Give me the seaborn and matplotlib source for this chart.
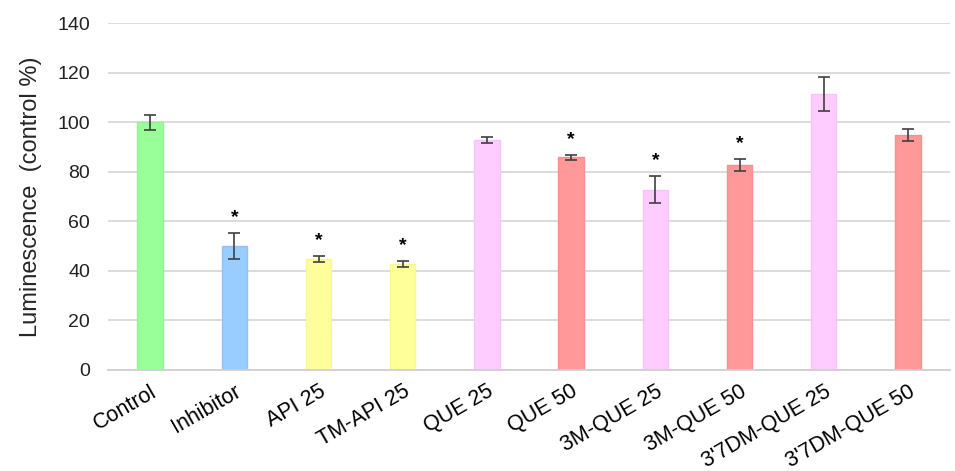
import matplotlib
matplotlib.use('Agg')
import matplotlib.pyplot as plt
import seaborn as sns
import pandas as pd
import numpy as np

# Data
groups = ['Control', 'Inhibitor', 'API 25', 'TM-API 25', 'QUE 25', 'QUE 50',
          '3M-QUE 25', '3M-QUE 50', "3'7DM-QUE 25", "3'7DM-QUE 50"]
means = [100.0, 50.0, 44.8, 42.8, 92.8, 85.8, 72.8, 82.7, 111.3, 94.8]
errors = [3.0, 5.4, 1.3, 1.25, 1.3, 1.0, 5.6, 2.4, 6.9, 2.5]
significant = [False, True, True, True, False, True, True, True, False, False]
colors = ['#99ff99', '#99ccff', '#ffff99', '#ffff99', '#ffccff', '#ff9999',
          '#ffccff', '#ff9999', '#ffccff', '#ff9999']
edges = ['#90f590', '#90c4f8', '#f8f890', '#f8f890', '#f8c4f8', '#f59090',
         '#f8c4f8', '#f59090', '#f8c4f8', '#f59090']

df = pd.DataFrame({'group': groups, 'value': means})

sns.set_style('white')
plt.rcParams['font.family'] = ['Liberation Sans', 'DejaVu Sans']

fig = plt.figure(figsize=(9.55, 4.71), dpi=100)
ax = fig.add_axes([108 / 955, 1 - 370 / 471, 842 / 955, 347 / 471])

sns.barplot(data=df, x='group', y='value', hue='group', palette=colors,
            saturation=1, width=0.3, legend=False, ax=ax, zorder=2)
for patch, ec in zip(ax.patches, edges):
    patch.set_edgecolor(ec)
    patch.set_linewidth(1.0)

x = np.arange(len(groups))
ax.errorbar(x, means, yerr=errors, fmt='none', ecolor='#404040',
            elinewidth=1.2, capsize=4, capthick=1.2, zorder=3)

# significance stars above the error bars
for xi, m, e, s in zip(x, means, errors, significant):
    if s:
        ax.annotate('*', (xi, m + e), xytext=(0, 5), textcoords='offset points',
                    ha='center', va='bottom', fontsize=14, fontweight='bold',
                    color='black')

ax.set_ylim(0, 140)
ax.set_yticks(range(0, 141, 20))
ax.set_xlim(-0.5, 9.5)
ax.yaxis.grid(True, color='#d9d9d9', linewidth=1.3, zorder=0)
ax.set_axisbelow(True)
for side in ['top', 'right', 'left']:
    ax.spines[side].set_visible(False)
ax.spines['bottom'].set_color('#d0d0d0')
ax.spines['bottom'].set_linewidth(1.3)

ax.tick_params(axis='y', length=0, pad=13, labelsize=14, labelcolor='#222222')
ax.tick_params(axis='x', length=0, pad=8, labelsize=15.5, labelcolor='black')
plt.setp(ax.get_xticklabels(), rotation=30, ha='right', rotation_mode='anchor')

ax.set_xlabel('')
ax.set_ylabel('Luminescence  (control %)', fontsize=17, labelpad=11)

fig.savefig('out.png', dpi=100)
